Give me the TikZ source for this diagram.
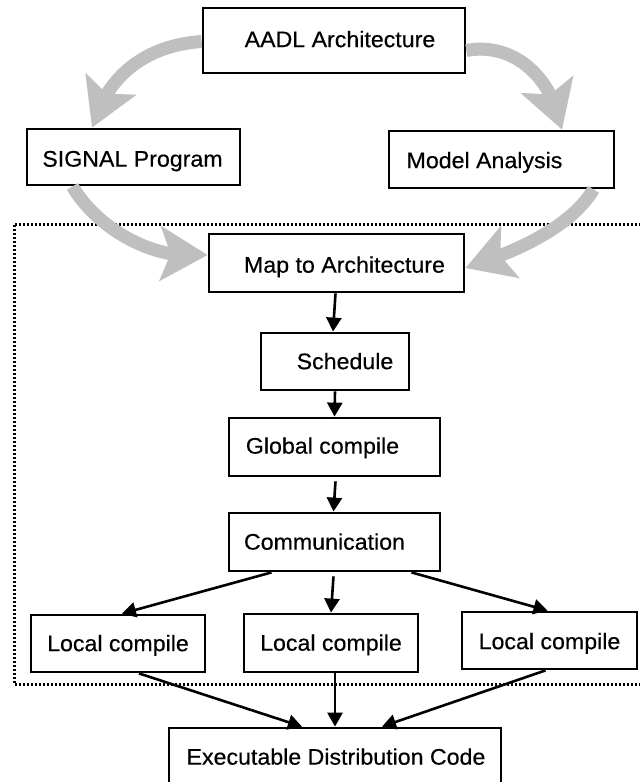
\documentclass[tikz,border=0pt]{standalone}
\usepackage{fontspec}
\setmainfont{Liberation Sans}[FakeStretch=1.03,FakeBold=0.4]
\usetikzlibrary{arrows.meta,bending}
\begin{document}
\begin{tikzpicture}[x=1pt,y=-1pt,
  box/.style={draw=black,line width=2.8pt,inner sep=0pt,fill=white},
  txt/.style={font=\fontsize{22.5}{27}\selectfont,inner sep=0pt,anchor=mid},
  flow/.style={line width=2.6pt,-{Triangle[length=14pt,width=15pt]}},
  bigarrow/.style={line width=13pt,draw=gray!50,-{Stealth[length=47pt,width=54pt,inset=10pt]}},
  frame/.style={line width=3pt,dash pattern=on 2.2pt off 1.8pt}]
\clip (0,0) rectangle (640,782);
\fill[white] (0,0) rectangle (640,782);

% dotted region
\draw[frame] (641,224) -- (14,224) -- (14,684) -- (641,684);

% boxes
\node[box,minimum width=262pt,minimum height=65pt] (aadl) at (334,40.5) {};
\node[box,minimum width=213pt,minimum height=56pt] (sig) at (133.5,157) {};
\node[box,minimum width=225pt,minimum height=57pt] (model) at (501.5,159.5) {};
\node[box,minimum width=255pt,minimum height=58pt] (map) at (336.5,263) {};
\node[box,minimum width=148pt,minimum height=57pt] (sched) at (335,361.5) {};
\node[box,minimum width=211pt,minimum height=58pt] (glob) at (334.5,447) {};
\node[box,minimum width=211pt,minimum height=58pt] (comm) at (334.5,542) {};
\node[box,minimum width=174pt,minimum height=57pt] (lc1) at (118,643.5) {};
\node[box,minimum width=174pt,minimum height=58pt] (lc2) at (331,643) {};
\node[box,minimum width=175pt,minimum height=57pt] (lc3) at (549.5,640.5) {};
\node[box,minimum width=332pt,minimum height=72pt] (exec) at (335,764) {};

% texts
\node[txt] (taadl) at ([shift={(6,4)}]aadl.center) {AADL Architecture};
\node[txt] (tsig) at ([shift={(-1,7)}]sig.center) {SIGNAL Program};
\node[txt] (tmodel) at ([shift={(-17,6)}]model.center) {Model Analysis};
\node[txt] (tmap) at ([shift={(8,7)}]map.center) {Map to Architecture};
\node[txt] (tsched) at ([shift={(10,5)}]sched.center) {Schedule};
\node[txt] (tglob) at ([shift={(-12,4)}]glob.center) {Global compile};
\node[txt] (tcomm) at ([shift={(-10,5)}]comm.center) {Communication};
\node[txt] (tlc1) at ([shift={(0,5)}]lc1.center) {Local compile};
\node[txt] (tlc2) at ([shift={(0,5)}]lc2.center) {Local compile};
\node[txt] (tlc3) at ([shift={(0,6)}]lc3.center) {Local compile};
\node[txt] (texec) at ([shift={(1,-2)}]exec.center) {Executable Distribution Code};

% flow arrows
\draw[flow] ([xshift=-1pt]map.south) -- ([xshift=-2pt]sched.north);
\draw[flow] (sched.south) -- (glob.north);
\draw[flow] ([shift={(1,4)}]glob.south) -- ([xshift=-1pt]comm.north);
\draw[flow] ([xshift=-63pt]comm.south) -- ([xshift=4pt]lc1.north);
\draw[flow] ([shift={(-1,4)}]comm.south) -- ([xshift=0pt]lc2.north);
\draw[flow] ([xshift=77pt]comm.south) -- ([xshift=-2pt]lc3.north);
\draw[flow] ([xshift=21pt]lc1.south) -- ([xshift=-33pt]exec.north);
\draw[flow] ([xshift=4pt]lc2.south) -- (exec.north);
\draw[flow] ([xshift=-4pt]lc3.south) -- ([xshift=47pt]exec.north);

% big gray arrows
\draw[bigarrow] ([yshift=-1pt]aadl.west) .. controls (150,45) and (108,72) .. ([xshift=-41.5pt]sig.north);
\draw[bigarrow] ([yshift=-10pt]aadl.east) .. controls (512,42) and (552,75) .. ([xshift=60.5pt]model.north);
\draw[bigarrow] ([xshift=-61pt]sig.south) .. controls (95,225) and (150,262) .. ([yshift=8pt]map.west);
\draw[bigarrow] ([xshift=92pt]model.south) .. controls (572,225) and (522,250) .. ([yshift=-5pt]map.east);
\end{tikzpicture}
\end{document}
